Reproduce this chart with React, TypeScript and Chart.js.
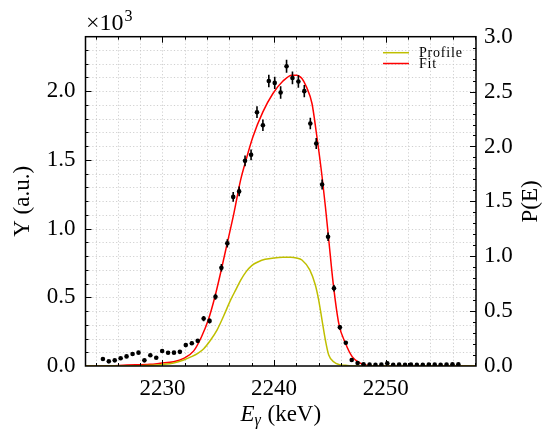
import React, { useEffect, useRef } from 'react';
import { Chart, registerables } from 'chart.js';

Chart.register(...registerables);

// Measured spectrum (E in keV, counts) with Poisson-like error bars
const energies = [
  2224.66, 2225.19, 2225.72, 2226.25, 2226.78, 2227.32, 2227.85, 2228.38, 2228.91, 2229.44,
  2229.97, 2230.50, 2231.03, 2231.56, 2232.09, 2232.63, 2233.16, 2233.69, 2234.22, 2234.75,
  2235.28, 2235.81, 2236.34, 2236.87, 2237.40, 2237.94, 2238.47, 2239.00, 2239.53, 2240.06,
  2240.59, 2241.12, 2241.65, 2242.18, 2242.71, 2243.25, 2243.78, 2244.31, 2244.84, 2245.37,
  2245.90, 2246.43, 2246.96, 2247.49, 2248.02, 2248.56, 2249.09, 2249.62, 2250.15, 2250.68,
  2251.21, 2251.74, 2252.27, 2252.80, 2253.33, 2253.87, 2254.40, 2254.93, 2255.46, 2255.99,
  2256.52,
];
const counts = [
  51, 34, 41, 56, 70, 87, 97, 41, 78, 60,
  109, 96, 97, 103, 152, 165, 183, 345, 328, 504,
  714, 892, 1230, 1270, 1492, 1536, 1846, 1751, 2073, 2059,
  1989, 2180, 2095, 2069, 1999, 1764, 1618, 1320, 940, 565,
  281, 169, 44, 22, 12, 10, 8, 10, 20, 9,
  11, 9, 10, 8, 9, 11, 10, 9, 11, 12,
  13,
];
const errors = [
  7, 6, 6, 7, 8, 9, 10, 6, 9, 8,
  10, 10, 10, 10, 12, 13, 14, 19, 18, 22,
  27, 30, 35, 36, 39, 39, 43, 42, 46, 45,
  45, 47, 46, 45, 45, 42, 40, 36, 31, 24,
  17, 13, 7, 5, 3, 3, 3, 3, 4, 3,
  3, 3, 3, 3, 3, 3, 3, 3, 3, 3,
  4,
];

// Fit curve (counts)
const fitEnergy = [
  2223.1, 2225.0, 2226.8, 2228.9, 2229.8, 2231.0, 2231.9, 2232.8, 2233.5, 2234.1,
  2234.7, 2235.3, 2235.8, 2236.4, 2237.0, 2237.4, 2238.1, 2239.0, 2239.9, 2240.8,
  2241.6, 2242.0, 2242.5, 2242.9, 2243.4, 2243.8, 2244.3, 2244.6, 2244.9, 2245.3,
  2245.8, 2246.4, 2247.0, 2247.6, 2248.3, 2249.0, 2258.1,
];
const fitCounts = [
  0, 1, 7, 12, 20, 31, 56, 110, 213, 334,
  504, 710, 892, 1110, 1352, 1473, 1666, 1848, 1982, 2073,
  2115, 2115, 2091, 2030, 1909, 1691, 1380, 1160, 920, 601,
  310, 165, 68, 27, 5, 0, 0,
];

// Profile P(E) (right axis)
const profileEnergy = [
  2223.1, 2228.0, 2229.0, 2230.0, 2231.0, 2231.9, 2232.6, 2233.2, 2233.7, 2234.3,
  2234.9, 2235.5, 2236.1, 2236.6, 2237.0, 2237.5, 2238.0, 2238.6, 2239.2, 2240.0,
  2240.8, 2241.5, 2242.0, 2242.5, 2243.2, 2243.7, 2244.0, 2244.3, 2244.6, 2244.9,
  2245.4, 2245.8, 2246.4, 2246.9, 2258.1,
];
const profileValues = [
  0, 0.002, 0.006, 0.014, 0.028, 0.055, 0.085, 0.118, 0.158, 0.235,
  0.33, 0.46, 0.6, 0.7, 0.78, 0.86, 0.915, 0.95, 0.972, 0.985,
  0.99, 0.99, 0.984, 0.966, 0.875, 0.738, 0.601, 0.419, 0.237, 0.1,
  0.034, 0.015, 0.006, 0, 0,
];

// Axis ranges and ticks
const X_MIN = 2223.1;
const X_MAX = 2258.1;
const Y_MAX = 2395;
const Y2_MAX = 3.0;
const xTicks = [2230, 2240, 2250];
const yTicks = [0, 500, 1000, 1500, 2000];
const y2Ticks = [0, 0.5, 1.0, 1.5, 2.0, 2.5, 3.0];

const SERIF = "'Liberation Serif', 'Times New Roman', serif";

const decorPlugin = {
  id: 'decor',
  beforeDatasetsDraw(chart: any) {
    const { ctx, chartArea: a, scales } = chart;
    const x = scales.x, y = scales.y;
    ctx.save();
    ctx.strokeStyle = '#c4c4c4';
    ctx.lineWidth = 0.8;
    ctx.setLineDash([1.2, 2.2]);
    for (let v = Math.ceil(X_MIN / 2) * 2; v < X_MAX; v += 2) {
      const px = Math.round(x.getPixelForValue(v)) + 0.5;
      ctx.beginPath(); ctx.moveTo(px, a.top); ctx.lineTo(px, a.bottom); ctx.stroke();
    }
    for (let v = 100; v < Y_MAX; v += 100) {
      const py = Math.round(y.getPixelForValue(v)) + 0.5;
      ctx.beginPath(); ctx.moveTo(a.left, py); ctx.lineTo(a.right, py); ctx.stroke();
    }
    ctx.restore();
  },
  afterDatasetsDraw(chart: any) {
    const { ctx, chartArea: a, scales } = chart;
    const x = scales.x, y = scales.y, y2 = scales.y2;
    ctx.save();
    // error bars
    ctx.strokeStyle = '#000';
    ctx.lineWidth = 1.6;
    ctx.beginPath();
    for (let i = 0; i < energies.length; i++) {
      const px = x.getPixelForValue(energies[i]);
      const top = y.getPixelForValue(counts[i] + errors[i]);
      const bot = y.getPixelForValue(Math.max(0, counts[i] - errors[i]));
      ctx.moveTo(px, top); ctx.lineTo(px, bot);
    }
    ctx.stroke();

    // inward ticks
    ctx.lineWidth = 1;
    const MAJ = 6, MIN = 3;
    ctx.beginPath();
    for (let v = Math.ceil(X_MIN / 2) * 2; v < X_MAX; v += 2) {
      const px = Math.round(x.getPixelForValue(v)) + 0.5;
      const len = v % 10 === 0 ? MAJ : MIN;
      ctx.moveTo(px, a.bottom); ctx.lineTo(px, a.bottom - len);
      ctx.moveTo(px, a.top); ctx.lineTo(px, a.top + len);
    }
    for (let v = 100; v < Y_MAX; v += 100) {
      const py = Math.round(y.getPixelForValue(v)) + 0.5;
      const len = v % 500 === 0 ? MAJ : MIN;
      ctx.moveTo(a.left, py); ctx.lineTo(a.left + len, py);
    }
    for (let k = 1; k < 30; k++) {
      const py = Math.round(y2.getPixelForValue(k / 10)) + 0.5;
      const len = k % 5 === 0 ? MAJ : MIN;
      ctx.moveTo(a.right, py); ctx.lineTo(a.right - len, py);
    }
    ctx.stroke();

    // frame
    ctx.lineWidth = 1.5;
    ctx.strokeRect(a.left, a.top, a.right - a.left, a.bottom - a.top);

    // legend (inside axes, upper right)
    const ds = chart.data.datasets;
    const entries = [ds[1], ds[2]];
    ctx.font = `14px ${SERIF}`;
    (ctx as any).letterSpacing = '0.8px';
    ctx.textBaseline = 'alphabetic';
    ctx.textAlign = 'left';
    const lineY = [52.7, 63.5];
    entries.forEach((d: any, i: number) => {
      ctx.strokeStyle = d.borderColor;
      ctx.lineWidth = 1.5;
      ctx.beginPath(); ctx.moveTo(383, lineY[i]); ctx.lineTo(409, lineY[i]); ctx.stroke();
      ctx.fillStyle = '#000';
      ctx.fillText(d.label, 419, lineY[i] + 4);
    });
    (ctx as any).letterSpacing = '0px';
    ctx.restore();
  },
  afterDraw(chart: any) {
    const { ctx, chartArea: a } = chart;
    ctx.save();
    ctx.fillStyle = '#000';
    ctx.textBaseline = 'alphabetic';

    // ×10^3 multiplier
    ctx.textAlign = 'left';
    ctx.font = `24px ${SERIF}`;
    ctx.fillText('\u00d710', 86, 30);
    const w = ctx.measureText('\u00d710').width;
    ctx.font = `16px ${SERIF}`;
    ctx.fillText('3', 86 + w + 1, 21);

    // left y title
    ctx.font = `23px ${SERIF}`;
    ctx.save();
    ctx.translate(29, (a.top + a.bottom) / 2);
    ctx.rotate(-Math.PI / 2);
    ctx.textAlign = 'center';
    ctx.fillText('Y (a.u.)', 0, 0);
    ctx.restore();

    // right y title
    ctx.save();
    ctx.translate(537, (a.top + a.bottom) / 2);
    ctx.rotate(-Math.PI / 2);
    ctx.textAlign = 'center';
    ctx.fillText('P(E)', 0, 0);
    ctx.restore();

    // x title: E_gamma (keV)
    const partE = 'E';
    const partG = '\u03b3';
    const partU = ' (keV)';
    ctx.font = `italic 23px ${SERIF}`;
    const wE = ctx.measureText(partE).width;
    ctx.font = `italic 16px ${SERIF}`;
    const wG = ctx.measureText(partG).width;
    ctx.font = `23px ${SERIF}`;
    const wU = ctx.measureText(partU).width;
    const total = wE + wG + 1 + wU;
    let sx = (a.left + a.right) / 2 - total / 2;
    const by = 421;
    ctx.textAlign = 'left';
    ctx.font = `italic 23px ${SERIF}`;
    ctx.fillText(partE, sx, by);
    sx += wE;
    ctx.font = `italic 16px ${SERIF}`;
    ctx.fillText(partG, sx, by + 4);
    sx += wG + 1;
    ctx.font = `23px ${SERIF}`;
    ctx.fillText(partU, sx, by);
    ctx.restore();
  },
};

export default function App() {
  const canvasRef = useRef<HTMLCanvasElement | null>(null);

  useEffect(() => {
    const canvas = canvasRef.current;
    if (!canvas) return;
    const tickFont = { family: SERIF, size: 23 };
    const setTicks = (list: number[]) => (s: any) => {
      s.ticks = list.map((v) => ({ value: v }));
    };
    const chart = new Chart(canvas, {
      type: 'scatter',
      data: {
        datasets: [
          {
            label: 'Data',
            data: energies.map((e, i) => ({ x: e, y: counts[i] })),
            backgroundColor: '#000',
            borderColor: '#000',
            pointRadius: 2.3,
            pointBorderWidth: 0,
            yAxisID: 'y',
          },
          {
            type: 'line',
            label: 'Profile',
            data: profileEnergy.map((e, i) => ({ x: e, y: profileValues[i] })),
            borderColor: '#bfbf00',
            borderWidth: 1.5,
            pointRadius: 0,
            cubicInterpolationMode: 'monotone',
            fill: false,
            yAxisID: 'y2',
          },
          {
            type: 'line',
            label: 'Fit',
            data: fitEnergy.map((e, i) => ({ x: e, y: fitCounts[i] })),
            borderColor: '#ff0000',
            borderWidth: 1.5,
            pointRadius: 0,
            cubicInterpolationMode: 'monotone',
            fill: false,
            yAxisID: 'y',
          },
        ] as any,
      },
      options: {
        animation: false,
        responsive: false,
        devicePixelRatio: 1,
        layout: { padding: { top: 36.7, left: 0, right: 0, bottom: 0 } },
        plugins: {
          legend: { display: false },
          tooltip: { enabled: false },
        },
        scales: {
          x: {
            type: 'linear',
            min: X_MIN,
            max: X_MAX,
            grid: { display: false, drawTicks: false },
            border: { display: false },
            afterBuildTicks: setTicks(xTicks),
            ticks: {
              color: '#000',
              font: tickFont,
              padding: 9,
              maxRotation: 0,
              autoSkip: false,
              callback: (v: any) => String(Math.round(Number(v))),
            },
            afterFit: (s: any) => { s.height = 69; },
          },
          y: {
            type: 'linear',
            position: 'left',
            min: 0,
            max: Y_MAX,
            grid: { display: false, drawTicks: false },
            border: { display: false },
            afterBuildTicks: setTicks(yTicks),
            ticks: {
              color: '#000',
              font: tickFont,
              padding: 10,
              autoSkip: false,
              callback: (v: any) => (Number(v) / 1000).toFixed(1),
            },
            afterFit: (s: any) => { s.width = 85.5; },
          },
          y2: {
            type: 'linear',
            position: 'right',
            min: 0,
            max: Y2_MAX,
            grid: { display: false, drawTicks: false },
            border: { display: false },
            afterBuildTicks: setTicks(y2Ticks),
            ticks: {
              color: '#000',
              font: tickFont,
              padding: 8,
              autoSkip: false,
              callback: (v: any) => Number(v).toFixed(1),
            },
            afterFit: (s: any) => { s.width = 72; },
          },
        },
      },
      plugins: [decorPlugin],
    } as any);
    return () => chart.destroy();
  }, []);

  return (
    <div style={{ position: 'fixed', left: 0, top: 0, width: 548, height: 435, background: '#fff' }}>
      <canvas ref={canvasRef} width={548} height={435} style={{ display: 'block' }} />
    </div>
  );
}
